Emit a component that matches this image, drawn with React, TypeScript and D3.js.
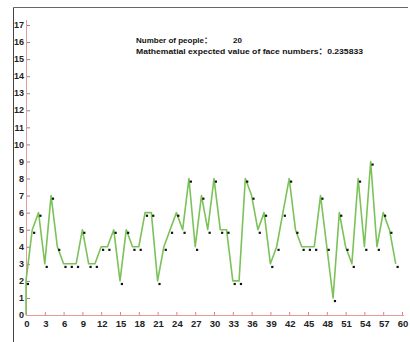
import React from "react";
import * as d3 from "d3";

const trials: number[] = d3.range(0, 60);
const faceCounts: number[] = [
  2, 5, 6, 3, 7, 4, 3, 3, 3, 5,
  3, 3, 4, 4, 5, 2, 5, 4, 4, 6,
  6, 2, 4, 5, 6, 5, 8, 4, 7, 5,
  8, 5, 5, 2, 2, 8, 7, 5, 6, 3,
  4, 6, 8, 5, 4, 4, 4, 7, 4, 1,
  6, 4, 3, 8, 4, 9, 4, 6, 5, 3,
];
const yTicks: number[] = d3.range(0, 18);
const xTicks: number[] = d3.range(0, 61, 3);
const infoLines: string[] = [
  "Number of people\uff1a",
  "Mathematial expected value of face numbers\uff1a0.235833",
];
const peopleCount = "20";

const W = 410;
const H = 342;
const x0 = 26;
const yBase = 315;

export default function App() {
  const x = d3.scaleLinear().domain([0, 60]).range([x0, 402]);
  const y = d3.scaleLinear().domain([0, 17]).range([yBase, 25]);

  const pts: [number, number][] = [[0, 0], ...trials.map((t, i) => [t, faceCounts[i]] as [number, number])];
  const line = d3
    .line<[number, number]>()
    .x((d) => x(d[0]))
    .y((d) => y(d[1]));

  const font = "'Liberation Sans', 'Noto Sans CJK SC', Arial, sans-serif";

  return (
    <svg
      width={W}
      height={H}
      style={{ position: "absolute", left: 0, top: 0, background: "#fff" }}
    >
      <rect x={0} y={0} width={W} height={H} fill="#fff" />
      {/* frame */}
      <line x1={13.5} y1={7.5} x2={408} y2={7.5} stroke="#666" strokeWidth={1} />
      <line x1={13.5} y1={7.5} x2={13.5} y2={H} stroke="#444" strokeWidth={1} />

      {/* y axis */}
      <line x1={x0 + 0.5} y1={yBase} x2={x0 + 0.5} y2={20} stroke="#e39a9a" strokeWidth={1} />
      {yTicks.map((t) => (
        <g key={"y" + t}>
          <line x1={x0 + 1} x2={x0 + 4} y1={y(t) + 0.5} y2={y(t) + 0.5} stroke="#888" strokeWidth={1} />
          <text
            x={x0 - 2}
            y={y(t)}
            dy="0.35em"
            textAnchor="end"
            fontFamily={font}
            fontWeight="bold"
            fontSize={9}
            fill="#222"
          >
            {t}
          </text>
        </g>
      ))}

      {/* x axis */}
      <line x1={x0} y1={yBase + 0.5} x2={404} y2={yBase + 0.5} stroke="#e39a9a" strokeWidth={1} />
      {xTicks.map((t) => (
        <g key={"x" + t}>
          <line x1={x(t) + 0.5} x2={x(t) + 0.5} y1={yBase} y2={yBase - 3} stroke="#e08080" strokeWidth={1} />
          <text
            x={x(t) + 1}
            y={yBase + 12}
            textAnchor="middle"
            fontFamily={font}
            fontWeight="bold"
            fontSize={9.5}
            fill="#222"
          >
            {t}
          </text>
        </g>
      ))}

      {/* series */}
      <path d={line(pts) || ""} fill="none" stroke="#7cc25a" strokeWidth={1.6} strokeLinejoin="round" />
      {trials.map((t, i) => (
        <rect
          key={"p" + t}
          x={x(t) + 0.8}
          y={y(faceCounts[i]) + 2}
          width={2.2}
          height={2.2}
          fill="#111"
        />
      ))}

      {/* info text */}
      <text x={136} y={43} fontFamily={font} fontWeight="bold" fontSize={8} fill="#111" textLength={76} lengthAdjust="spacingAndGlyphs">
        {infoLines[0]}
      </text>
      <text x={233} y={43} fontFamily={font} fontWeight="bold" fontSize={8} fill="#111">
        {peopleCount}
      </text>
      <text x={136} y={54} fontFamily={font} fontWeight="bold" fontSize={8} fill="#111" textLength={227} lengthAdjust="spacingAndGlyphs">
        {infoLines[1]}
      </text>
    </svg>
  );
}
